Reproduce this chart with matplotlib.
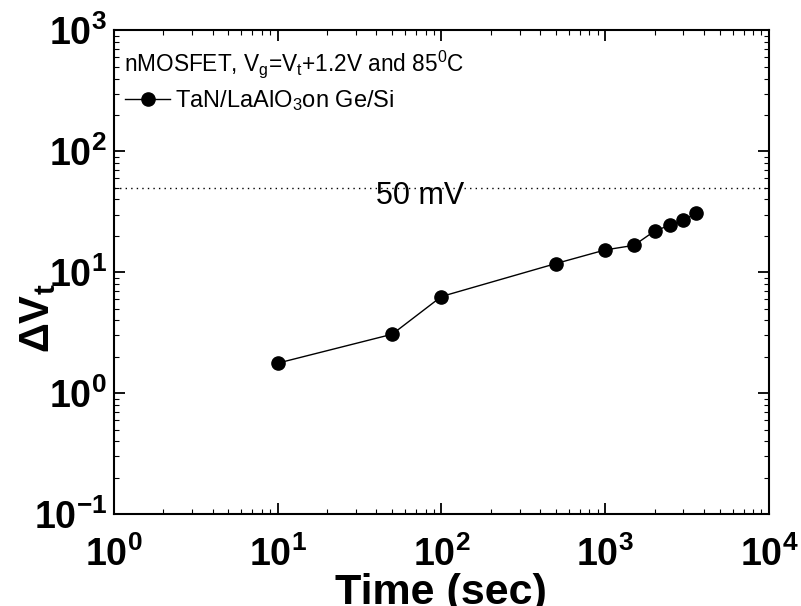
import math
import matplotlib
matplotlib.use("Agg")
import matplotlib.pyplot as plt
from matplotlib.ticker import FixedLocator, LogLocator, NullFormatter

plt.rcParams['font.family'] = ['Liberation Sans', 'DejaVu Sans']
plt.rcParams['mathtext.fontset'] = 'custom'
plt.rcParams['mathtext.rm'] = 'Liberation Sans'
plt.rcParams['mathtext.it'] = 'Liberation Sans'
plt.rcParams['mathtext.bf'] = 'Liberation Sans:bold'
plt.rcParams['mathtext.default'] = 'regular'

time_s = [10, 50, 100, 500, 1000, 1500, 2000, 2500, 3000, 3600]
delta_vt = [1.77, 3.07, 6.3, 11.8, 15.3, 16.7, 21.9, 24.6, 26.9, 30.9]
limit_mv = 50
limit_label = "50 mV"
series_label = r"TaN/LaAlO$_3$on Ge/Si"
condition_text = r"nMOSFET, V$_g$=V$_t$+1.2V and 85$^0$C"
x_ticks = [1, 10, 100, 1000, 10000]
y_ticks = [0.1, 1, 10, 100, 1000]

fig = plt.figure(figsize=(8.01, 6.06), dpi=100)
ax = fig.add_axes([0.1423, 0.1518, 0.8177, 0.7979])

ax.set_xscale('log')
ax.set_yscale('log')
ax.set_xlim(1, 1e4)
ax.set_ylim(0.1, 1e3)

ax.axhline(limit_mv, color='black', linestyle=(0, (1, 3)), linewidth=1.0)
ax.plot(time_s, delta_vt, color='black', linewidth=1.0, marker='o',
        markersize=9.5, label=series_label)

ax.text(74, 43, limit_label, fontsize=22, ha='center', va='center')

ax.xaxis.set_major_locator(FixedLocator(x_ticks))
ax.yaxis.set_major_locator(FixedLocator(y_ticks))
ax.xaxis.set_minor_locator(LogLocator(base=10, subs=range(2, 10), numticks=20))
ax.yaxis.set_minor_locator(LogLocator(base=10, subs=range(2, 10), numticks=20))
ax.xaxis.set_minor_formatter(NullFormatter())
ax.yaxis.set_minor_formatter(NullFormatter())

def lab(v):
    e = int(round(math.log10(v)))
    return r"$\mathbf{10^{%d}}$" % e

ax.set_xticklabels([lab(v) for v in x_ticks], fontsize=27)
ax.set_yticklabels([lab(v) for v in y_ticks], fontsize=27)

ax.tick_params(which='both', direction='in', top=True, right=True)
ax.tick_params(axis='x', which='major', pad=16)
ax.tick_params(axis='y', which='major', pad=5)
ax.tick_params(which='major', length=8, width=1.3)
ax.tick_params(which='minor', length=3.5, width=0.8)
for s in ax.spines.values():
    s.set_linewidth(1.5)

fig.text(441 / 801, 1 - 593 / 606, "Time (sec)", fontsize=31,
         fontweight='bold', ha='center', va='center')
fig.text(38 / 801, 1 - 318 / 606, r"$\mathbf{\Delta V}_\mathbf{t}$",
         fontsize=30, rotation=90, ha='center', va='center')

ax.text(0.015, 0.93, condition_text, transform=ax.transAxes, fontsize=16.3,
        ha='left', va='center')
leg = ax.legend(loc='upper left', bbox_to_anchor=(-0.008, 0.915), frameon=False,
                fontsize=17, handlelength=1.9, handletextpad=0.2,
                borderaxespad=0.3)

fig.savefig("out.png", dpi=100)
